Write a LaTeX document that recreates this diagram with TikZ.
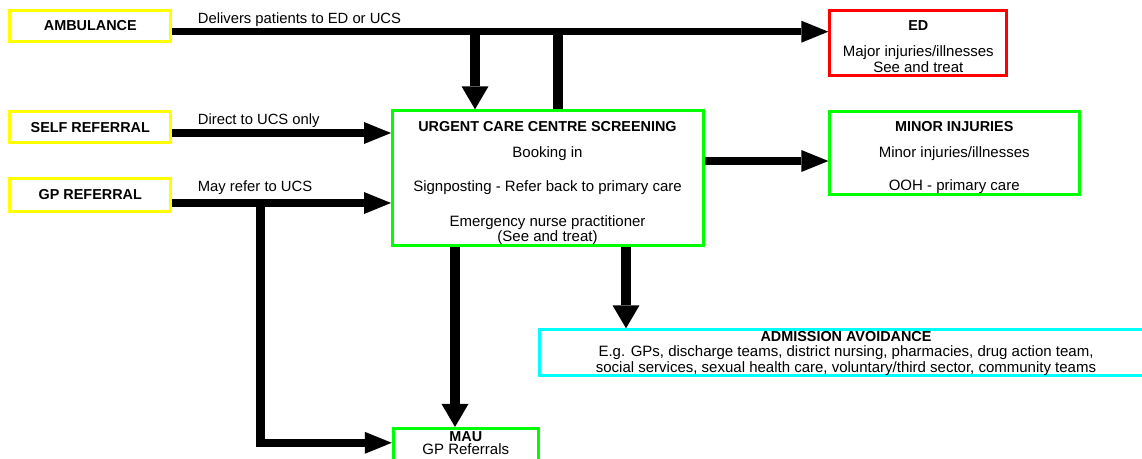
\documentclass[tikz,border=0pt]{standalone}
\usepackage{fontspec}
\setmainfont{Liberation Sans}
\usetikzlibrary{arrows.meta,calc}
\definecolor{boxyellow}{RGB}{255,255,0}
\definecolor{boxgreen}{RGB}{0,255,0}
\definecolor{boxred}{RGB}{255,0,0}
\definecolor{boxcyan}{RGB}{0,255,255}
\tikzset{
  box/.style={draw, line width=3pt, inner sep=0pt, fill=none},
  txt/.style={anchor=base, inner sep=0pt, font=\fontsize{15}{17}\selectfont},
  ttl/.style={anchor=base, inner sep=0pt, font=\fontsize{14.4}{16}\selectfont\bfseries},
  lbl/.style={anchor=base west, inner sep=0pt, font=\fontsize{14.8}{17}\selectfont},
  hline/.style={line width=7.5pt},
  vline/.style={line width=10pt},
  harrow/.style={line width=7.5pt, -{Triangle[length=27pt,width=22pt,line width=0pt]}},
  varrow/.style={line width=10pt, -{Triangle[length=23pt,width=27pt,line width=0pt]}},
}
\begin{document}
\begin{tikzpicture}[x=1pt,y=-1pt]
\useasboundingbox (0,0) rectangle (1142,458);
\clip (0,0) rectangle (1142,458);
% boxes
\node[box, draw=boxyellow, minimum width=161pt, minimum height=31pt] (amb) at (90.3,26.3) {};
\node[box, draw=boxyellow, minimum width=161pt, minimum height=31pt] (self) at (90.3,127) {};
\node[box, draw=boxyellow, minimum width=161pt, minimum height=33pt] (gp) at (90.3,195.3) {};
\node[box, draw=boxred, minimum width=177pt, minimum height=65.3pt] (ed) at (918.3,43.2) {};
\node[box, draw=boxgreen, minimum width=311pt, minimum height=134.4pt] (ucs) at (548,178) {};
\node[box, draw=boxgreen, minimum width=249.7pt, minimum height=82.7pt] (minor) at (954.7,152.9) {};
\node[box, draw=boxcyan, minimum width=612.7pt, minimum height=46pt] (adm) at (846.2,352.8) {};
\node[box, draw=boxgreen, minimum width=145.3pt, minimum height=45pt] (mau) at (465.9,450.9) {};
% texts
\node[ttl] (amb-t) at (90.3,30.7) {AMBULANCE};
\node[ttl] (self-t) at (90.3,132) {SELF REFERRAL};
\node[ttl] (gp-t) at (90.3,199.3) {GP REFERRAL};
\node[lbl] (amb-l) at (197.7,23.3) {Delivers patients to ED or UCS};
\node[lbl] (self-l) at (197.7,124) {Direct to UCS only};
\node[lbl] (gp-l) at (197.7,191.7) {May refer to UCS};
\node[ttl] (ed-t) at (918.3,30.7) {ED};
\node[txt] (ed-1) at (918.3,56.7) {Major injuries/illnesses};
\node[txt] (ed-2) at (918.3,72.7) {See and treat};
\node[ttl] (ucs-t) at (547.5,131) {URGENT CARE CENTRE SCREENING};
\node[txt] (ucs-1) at (547.5,157.3) {Booking in};
\node[txt] (ucs-2) at (547.5,191) {Signposting - Refer back to primary care};
\node[txt] (ucs-3) at (547.5,226.7) {Emergency nurse practitioner};
\node[txt] (ucs-4) at (547.5,241.7) {(See and treat)};
\node[ttl] (minor-t) at (954.2,131) {MINOR INJURIES};
\node[txt] (minor-1) at (954.2,157.7) {Minor injuries/illnesses};
\node[txt] (minor-2) at (954.2,190.7) {OOH - primary care};
\node[ttl] (adm-t) at (846,341) {ADMISSION AVOIDANCE};
\node[txt] (adm-1) at (846,356.5) {E.g. GPs, discharge teams, district nursing, pharmacies, drug action team,};
\node[txt] (adm-2) at (846,372) {social services, sexual health care, voluntary/third sector, community teams};
\node[ttl] (mau-t) at (465.8,441) {MAU};
\node[txt] (mau-1) at (465.8,454) {GP Referrals};
% junctions
\coordinate (j1) at (475,31.7);
\coordinate (j2) at (558.3,28);
\coordinate (j3) at (260.5,199.5);
\coordinate (j4) at (260.5,446.8);
\coordinate (j5) at (256,442.8);
% connectors
\draw[harrow] ($(amb.east)+(0,5.4)$) -- ($(ed.west)+(0,-11.5)$);
\draw[varrow] (j1) -- (j1 |- ucs.north);
\draw[vline] (j2 |- ucs.north) -- (j2);
\draw[harrow] ($(self.east)+(0,6)$) -- ($(ucs.west)+(0,-45)$);
\draw[harrow] ($(gp.east)+(0,7.7)$) -- ($(ucs.west)+(0,25)$);
\draw[line width=9.5pt] (j3) -- (j4);
\draw[harrow] (j5) -- (j5 -| mau.west);
\draw[varrow] (ucs.south -| 455,0) -- (mau.north -| 455,0);
\draw[varrow] (ucs.south -| 626,0) -- (adm.north -| 626,0);
\draw[harrow] ($(ucs.east)+(0,-17)$) -- ($(minor.west)+(0,8.1)$);
\end{tikzpicture}
\end{document}
